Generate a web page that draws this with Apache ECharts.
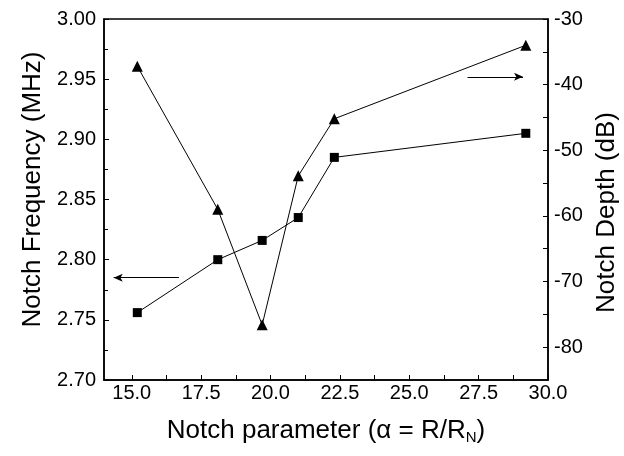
<!DOCTYPE html>
<html>
<head>
<meta charset="utf-8">
<script src="https://cdn.jsdelivr.net/npm/echarts@6/dist/echarts.min.js"></script>
<style>
  html, body { margin: 0; padding: 0; background: #fff; }
  #chart { width: 624px; height: 456px; }
</style>
</head>
<body>
<div id="chart"></div>
<script>
// notch parameter alpha = R/RN
var alpha = [15.2, 18.1, 19.7, 21.0, 22.3, 29.2];
// notch frequency (MHz), left axis
var freq = [2.756, 2.800, 2.816, 2.835, 2.885, 2.905];
// notch depth (dB), right axis
var depth = [-37.2, -59.0, -76.6, -53.9, -45.2, -34.0];

var xLabels = [15, 17.5, 20, 22.5, 25, 27.5, 30];
var xTicks = [15, 16.25, 17.5, 18.75, 20, 21.25, 22.5, 23.75, 25, 26.25, 27.5, 28.75, 30];
var depthLabels = [-80, -70, -60, -50, -40, -30];
var depthTicks = [-80, -75, -70, -65, -60, -55, -50, -45, -40, -35, -30];

var font = 'Liberation Sans, Arial, sans-serif';
var myChart = echarts.init(document.getElementById('chart'));

var options = {
  animation: false,
  grid: {
    left: 104,
    right: 76,
    top: 19,
    bottom: 76,
    outerBoundsMode: 'none',
    show: true,
    borderColor: '#000',
    borderWidth: 1.5
  },
  xAxis: {
    type: 'value',
    min: 14,
    max: 30,
    name: '{t|Notch parameter (α = R/R}{s|N}{t|)}',
    nameLocation: 'middle',
    nameGap: 36,
    nameTextStyle: {
      rich: {
        t: { fontFamily: font, fontSize: 26, color: '#000' },
        s: { fontFamily: font, fontSize: 15, color: '#000', verticalAlign: 'bottom', padding: [14, 0, 0, 0] }
      }
    },
    axisLine: { lineStyle: { color: '#000', width: 1.5 } },
    axisTick: { inside: true, length: 5, customValues: xTicks, lineStyle: { color: '#000' } },
    axisLabel: {
      customValues: xLabels,
      color: '#000',
      fontFamily: font,
      fontSize: 20,
      margin: 3,
      formatter: function (v) { return v.toFixed(1); }
    },
    splitLine: { show: false }
  },
  yAxis: [
    {
      type: 'value',
      min: 2.70,
      max: 3.00,
      interval: 0.05,
      name: 'Notch Frequency (MHz)',
      nameLocation: 'middle',
      nameGap: 58,
      nameRotate: 90,
      nameTextStyle: { fontFamily: font, fontSize: 26, color: '#000', padding: [0, 0, 0, 20] },
      axisLine: { show: true, lineStyle: { color: '#000', width: 1.5 } },
      axisTick: { inside: true, length: 5, lineStyle: { color: '#000' } },
      minorTick: { show: true, splitNumber: 2, length: 4, lineStyle: { color: '#000' } },
      axisLabel: {
        color: '#000',
        fontFamily: font,
        fontSize: 20,
        margin: 8,
        formatter: function (v) { return v.toFixed(2); }
      },
      splitLine: { show: false }
    },
    {
      type: 'value',
      min: -85,
      max: -30,
      position: 'right',
      name: 'Notch Depth (dB)',
      nameLocation: 'middle',
      nameGap: 46,
      nameRotate: 90,
      nameTextStyle: { fontFamily: font, fontSize: 26, color: '#000', padding: [0, 26, 0, 0] },
      axisLine: { show: true, lineStyle: { color: '#000', width: 1.5 } },
      axisTick: { inside: true, length: 5, customValues: depthTicks, lineStyle: { color: '#000' } },
      axisLabel: {
        customValues: depthLabels,
        color: '#000',
        fontFamily: font,
        fontSize: 20,
        margin: 6
      },
      splitLine: { show: false }
    }
  ],
  series: [
    {
      type: 'line',
      yAxisIndex: 0,
      data: alpha.map(function (a, i) { return [a, freq[i]]; }),
      symbol: 'rect',
      symbolSize: 9,
      itemStyle: { color: '#000' },
      lineStyle: { color: '#000', width: 1 },
      markLine: {
        silent: true,
        symbol: ['none', 'arrow'],
        symbolSize: [6, 9],
        label: { show: false },
        lineStyle: { color: '#000', width: 1, type: 'solid' },
        data: [[{ coord: [16.7, 2.785] }, { coord: [14.35, 2.785] }]]
      }
    },
    {
      type: 'line',
      yAxisIndex: 1,
      data: alpha.map(function (a, i) { return [a, depth[i]]; }),
      symbol: 'triangle',
      symbolSize: 11,
      itemStyle: { color: '#000' },
      lineStyle: { color: '#000', width: 1 },
      markLine: {
        silent: true,
        symbol: ['none', 'arrow'],
        symbolSize: [6, 9],
        label: { show: false },
        lineStyle: { color: '#000', width: 1, type: 'solid' },
        data: [[{ coord: [27.1, -38.8] }, { coord: [29.1, -38.8] }]]
      }
    }
  ]
};
myChart.setOption(options);
</script>
</body>
</html>
